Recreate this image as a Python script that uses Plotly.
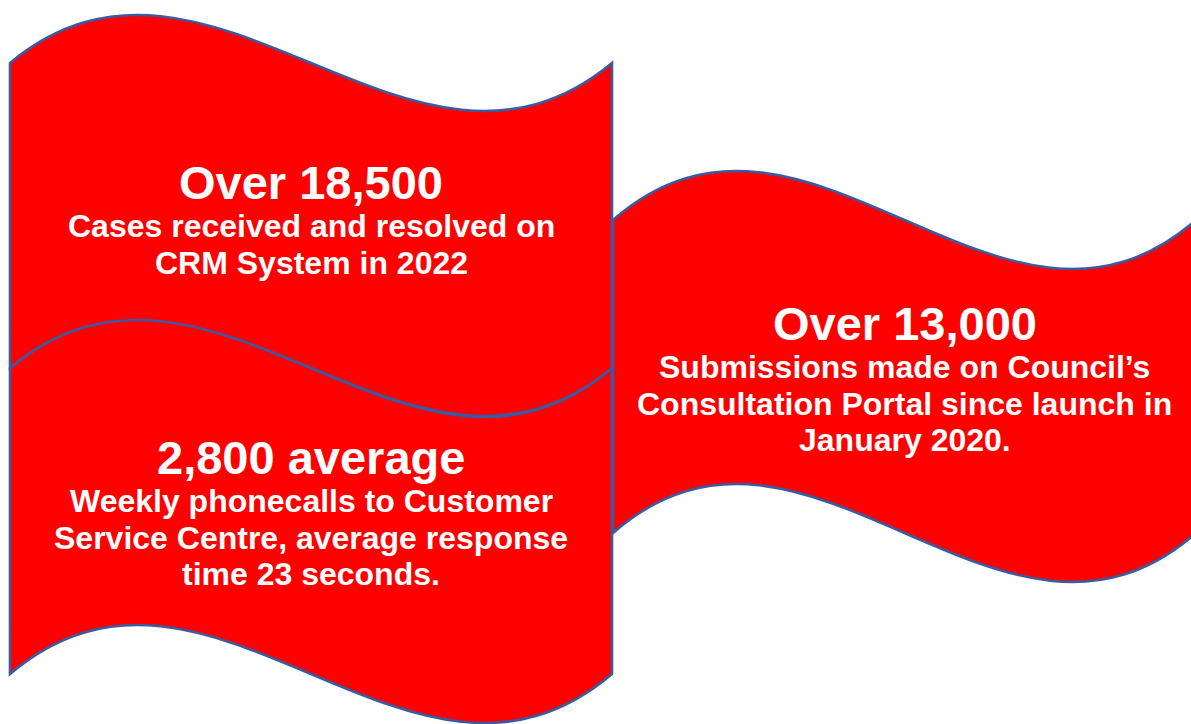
import plotly.graph_objects as go

# panel text
titles = ["Over 18,500", "2,800 average", "Over 13,000"]
body_lines = [
    ["Cases received and resolved on", "CRM System in 2022"],
    ["Weekly phonecalls to Customer", "Service Centre, average response", "time 23 seconds."],
    ["Submissions made on Council\u2019s", "Consultation Portal since launch in", "January 2020."],
]

# wave banner geometry (pixels): left, right, top baseline, bottom baseline, wave swing
panels = [
    dict(l=10, r=612, top=63, bottom=368, swing=48),
    dict(l=10, r=612, top=368, bottom=674, swing=49),
    dict(l=613, r=1196, top=220, bottom=533, swing=49),
]
title_y = [182, 457, 323]

FILL = "#FF0000"
EDGE = "#3B5BA0"
W, H = 1191, 724


def wave_path(p):
    l, r, t, b = p["l"], p["r"], p["top"], p["bottom"]
    w = r - l
    k = p["swing"] / 0.2887  # bezier control offset giving that peak swing
    x1, x2 = l + w / 3, l + 2 * w / 3
    return (
        f"M {l},{t} C {x1},{t - k} {x2},{t + k} {r},{t} "
        f"L {r},{b} C {x2},{b + k} {x1},{b - k} {l},{b} Z"
    )


fig = go.Figure()
# the bottom-left banner sits under the top-left one
order = [1, 0, 2]
for i in order:
    fig.add_shape(
        type="path",
        path=wave_path(panels[i]),
        xref="x",
        yref="y",
        fillcolor=FILL,
        line=dict(color=EDGE, width=2.6),
        layer="below",
    )

font = "Liberation Sans, Arial, sans-serif"
for i, p in enumerate(panels):
    cx = (p["l"] + p["r"]) / 2
    fig.add_annotation(
        x=cx, y=title_y[i], xref="x", yref="y",
        text=f"<b>{titles[i]}</b>", showarrow=False,
        font=dict(family=font, size=47, color="white"),
        xanchor="center", yanchor="middle",
    )
    for j, line in enumerate(body_lines[i]):
        fig.add_annotation(
            x=cx, y=title_y[i] + 44 + 36.5 * j, xref="x", yref="y",
            text=f"<b>{line}</b>", showarrow=False,
            font=dict(family=font, size=32, color="white"),
            xanchor="center", yanchor="middle",
        )

fig.update_xaxes(range=[0, W], visible=False, fixedrange=True)
fig.update_yaxes(range=[H, 0], visible=False, fixedrange=True)
fig.update_layout(
    width=W,
    height=H,
    margin=dict(l=0, r=0, t=0, b=0),
    paper_bgcolor="white",
    plot_bgcolor="white",
    showlegend=False,
)

fig.write_html(
    "out.html",
    config={"displayModeBar": False},
    post_script="document.body.style.margin='0px'; document.body.style.overflow='hidden';",
)
